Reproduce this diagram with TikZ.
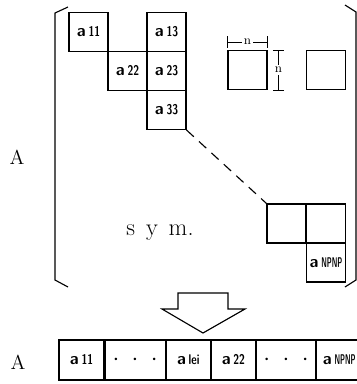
\documentclass[tikz,border=0pt]{standalone}
\usepackage{tikz}
\usetikzlibrary{arrows.meta, calc, positioning}

\tikzset{
  cell/.style={draw, thick, minimum size=0.975cm, inner sep=0pt, font=\large\sffamily\bfseries},
  rowcell/.style={draw, thick, minimum height=1cm, inner sep=0pt, font=\large\sffamily\bfseries},
  dimline/.style={thin, {Bar[width=2.8mm]}-{Bar[width=2.8mm]}},
  dimlabel/.style={fill=white, inner sep=1.5pt, font=\small},
}
\newcommand{\ent}[1]{a\,\scalebox{0.75}[1]{\normalsize\bfseries #1}}
\newcommand{\entlast}{a\,\scalebox{0.5}[1]{\normalsize\bfseries NPNP}}
\newcommand{\gapdots}{{\LARGE$\cdot\hspace{5pt}\cdot\hspace{5pt}\cdot$}}

\begin{document}
\begin{tikzpicture}[x=0.025cm,y=-0.025cm]
    \useasboundingbox (0,0) rectangle (357,384);
    % upper triangle of the matrix
    \node[cell] (a11) at (88.5,32) {\ent{11}};
    \node[cell] (a22) at (127.5,71) {\ent{22}};
    \node[cell] (a13) at (166.5,32) {\ent{13}};
    \node[cell] (a23) at (166.5,71) {\ent{23}};
    \node[cell] (a33) at (166.5,110) {\ent{33}};
    % sample blocks with size n
    \node[cell] (s1) at (247.5,70) {};
    \node[cell] (s2) at (326,70) {};
    \draw[dimline] ($(s1.north west)+(0,-8)$) -- node[dimlabel] {n} ($(s1.north east)+(0,-8)$);
    \draw[dimline] ($(s1.north east)+(11,0)$) -- node[dimlabel] {n} ($(s1.south east)+(11,0)$);
    % last blocks
    \node[cell] (e1) at (286.5,223.5) {};
    \node[cell] (e2) at (326,223.5) {};
    \node[cell] (enn) at (326,262.5) {\entlast};
    \draw[thick, dash pattern=on 7pt off 5pt] (a33.south east) -- (e1.north west);
    % brackets
    \draw[thick] (68,7) -- (55,13) -- (55,280) -- (68,287);
    \draw[thick] (345,5) -- (356,12) -- (356,280) -- (345,287);
    \node[font=\LARGE] (sym) at (160,233) {s\hspace{0.45em}y\hspace{0.45em}m.};
    \node[font=\Large] (A1) at (17,157) {A};
    % storage arrow
    \draw[thick] (178,293) -- (228,293) -- (228,309) -- (245,309) -- (203,333)
      -- (162,309) -- (178,309) -- cycle;
    % one-dimensional storage
    \node[font=\Large] (A2) at (18,362) {A};
    \node[rowcell, minimum width=1.125cm] (r1) at (81.5,360) {\ent{11}};
    \node[rowcell, minimum width=1.5cm, right=0pt of r1] (r2) {\gapdots};
    \node[rowcell, minimum width=1.1cm, right=0pt of r2] (r3) {\ent{lei}};
    \node[rowcell, minimum width=1.1cm, right=0pt of r3] (r4) {\ent{22}};
    \node[rowcell, minimum width=1.475cm, right=0pt of r4] (r5) {\gapdots};
    \node[rowcell, minimum width=1.125cm, right=0pt of r5] (r6) {\entlast};
\end{tikzpicture}
\end{document}
